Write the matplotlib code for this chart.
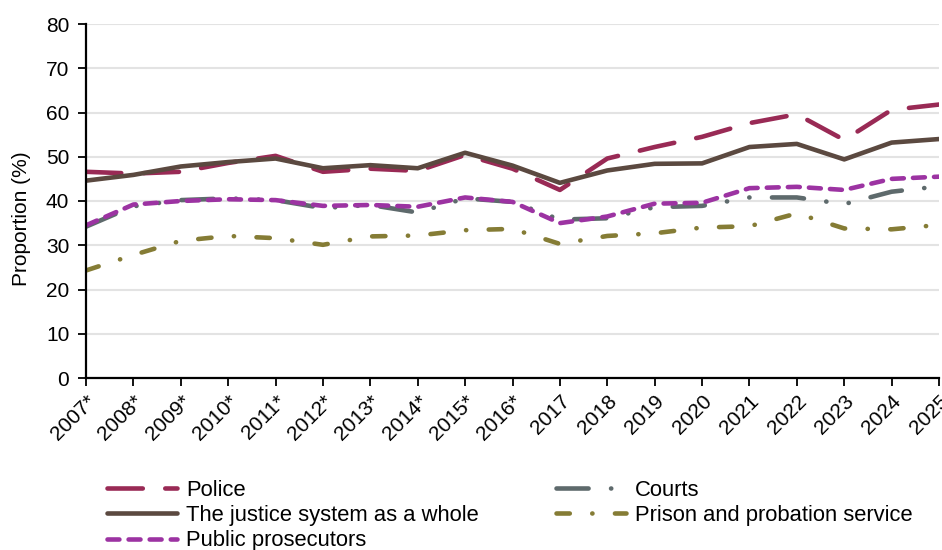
import matplotlib.pyplot as plt

years = ['2007*', '2008*', '2009*', '2010*', '2011*', '2012*', '2013*', '2014*', '2015*', '2016*',
         '2017', '2018', '2019', '2020', '2021', '2022', '2023', '2024', '2025']

police = [46.6, 46.2, 46.6, 48.6, 50.2, 46.6, 47.3, 46.8, 50.4, 47.3,
          42.5, 49.6, 52.2, 54.5, 57.6, 59.6, 53.8, 60.6, 61.8]
justice = [44.6, 45.9, 47.8, 48.8, 49.6, 47.4, 48.1, 47.4, 50.9, 48.0,
           44.1, 46.9, 48.4, 48.5, 52.2, 52.9, 49.4, 53.2, 54.0]
prosecutors = [34.5, 39.2, 40.0, 40.4, 40.2, 38.9, 39.1, 38.7, 40.8, 39.8,
               35.0, 36.5, 39.4, 39.6, 42.9, 43.2, 42.5, 45.0, 45.5]
courts = [34.2, 38.8, 40.2, 40.6, 40.2, 38.4, 39.1, 37.4, 40.6, 39.8,
          35.8, 36.1, 38.6, 38.9, 40.8, 40.8, 39.3, 42.1, 43.3]
prison = [24.3, 27.8, 31.0, 32.1, 31.6, 30.1, 32.0, 32.2, 33.4, 33.7,
          30.3, 32.1, 32.7, 34.0, 34.3, 37.2, 33.8, 33.6, 34.6]

plt.rcParams['font.family'] = ['Liberation Sans', 'DejaVu Sans']

fig = plt.figure(figsize=(9.42, 5.5), dpi=100)
ax = fig.add_axes([86 / 942, 1 - 378 / 550, 853 / 942, 354 / 550])

x = list(range(len(years)))
lw = 3.3
kw = dict(lw=lw, dash_capstyle='round', solid_capstyle='round')

l_police, = ax.plot(x, police, color='#992a55', dashes=(7.7, 4.9), label='Police', zorder=4, **kw)
l_justice, = ax.plot(x, justice, color='#5b4940', label='The justice system as a whole', zorder=5, **kw)
l_courts, = ax.plot(x, courts, color='#5e6a6c', dashes=(7.0, 4.9, 0.05, 4.9, 0.05, 4.9),
                    label='Courts', zorder=2, **kw)
l_prison, = ax.plot(x, prison, color='#857c35', dashes=(2.9, 4.9, 0.05, 4.9),
                    label='Prison and probation service', zorder=2, **kw)
l_pros, = ax.plot(x, prosecutors, color='#9c33a2', dashes=(2.6, 2.0),
                  label='Public prosecutors', zorder=3, **kw)

ax.set_xlim(0, 18)
ax.set_ylim(0, 80)
ax.set_yticks(range(0, 81, 10))
ax.set_xticks(x)
ax.set_xticklabels(years, rotation=45, ha='right', rotation_mode='anchor')
ax.tick_params(axis='both', labelsize=15, length=6, width=1.3, color='black', direction='out')
ax.tick_params(axis='x', pad=4)
ax.tick_params(axis='y', pad=6)

ax.grid(axis='y', color='#e3e3e3', lw=1.5)
ax.set_axisbelow(True)
for s in ['top', 'right']:
    ax.spines[s].set_visible(False)
for s in ['left', 'bottom']:
    ax.spines[s].set_linewidth(1.6)
    ax.spines[s].set_color('black')
    ax.spines[s].set_zorder(6)

ax.set_ylabel('Proportion (%)', fontsize=15)
ax.yaxis.set_label_coords(-0.065, 0.45)

fig.legend(handles=[l_police, l_justice, l_pros, l_courts, l_prison], ncol=2,
           loc='upper left', bbox_to_anchor=(107 / 942, 1 - 480 / 550),
           frameon=False, fontsize=15.8, borderpad=0, borderaxespad=0,
           handlelength=3.2, handletextpad=0.4, columnspacing=3.5, labelspacing=0.19)

fig.savefig('out.png', dpi=100)
